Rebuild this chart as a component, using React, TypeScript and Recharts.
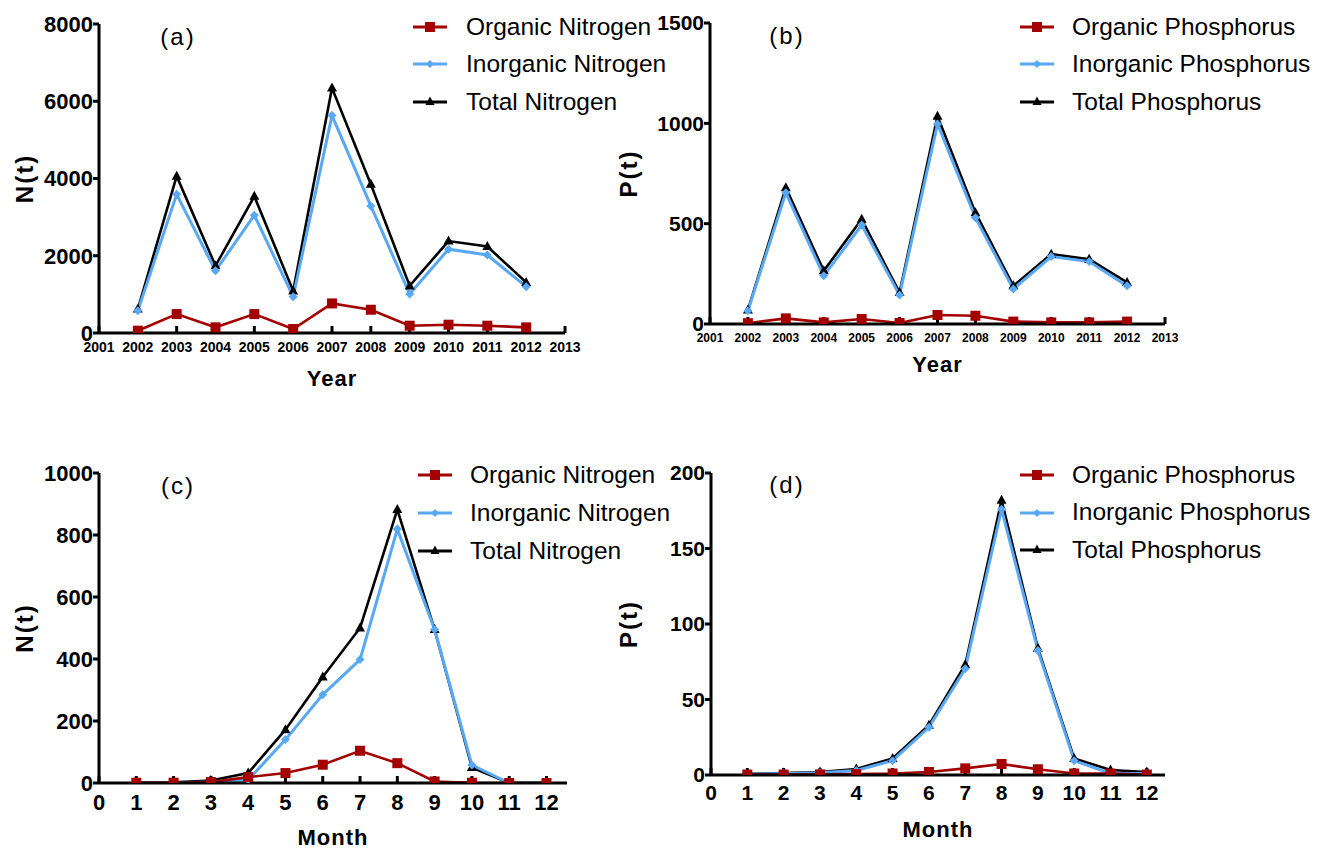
import React from 'react';
import { LineChart, Line, XAxis, YAxis, Legend } from 'recharts';

// ---------- data ----------
const years = [2002, 2003, 2004, 2005, 2006, 2007, 2008, 2009, 2010, 2011, 2012];
const organicNitrogenYear = [60, 490, 147, 490, 103, 766, 602, 189, 215, 189, 146];
const inorganicNitrogenYear = [575, 3590, 1610, 3050, 940, 5630, 3290, 1010, 2170, 2020, 1200];
const totalNitrogenYear = [620, 4060, 1740, 3540, 1090, 6340, 3850, 1220, 2380, 2240, 1310];

const organicPhosphorusYear = [4, 28, 8, 25, 5, 45, 41, 12, 8, 8, 12];
const inorganicPhosphorusYear = [66, 654, 240, 493, 144, 997, 530, 174, 336, 311, 190];
const totalPhosphorusYear = [70, 679, 265, 522, 157, 1035, 555, 190, 348, 323, 207];

const months = [1, 2, 3, 4, 5, 6, 7, 8, 9, 10, 11, 12];
const organicNitrogenMonth = [1, 1, 3, 19, 32, 59, 104, 64, 5, 1, 0, 0];
const inorganicNitrogenMonth = [0, 0, 3, 10, 140, 285, 398, 819, 495, 58, 0, 0];
const totalNitrogenMonth = [0, 2, 8, 32, 172, 342, 500, 882, 495, 50, 0, 0];

const organicPhosphorusMonth = [0.3, 0.3, 0.4, 0.6, 1, 2, 4.4, 7.3, 3.8, 1, 1, 0.3];
const inorganicPhosphorusMonth = [0.5, 1, 1.5, 3, 9.5, 31.6, 70.4, 176, 82.5, 9.5, 1, 1];
const totalPhosphorusMonth = [0.8, 1.3, 2, 4, 11, 33, 73, 182, 84, 11, 3.3, 2];

const yearTicks = [2001, 2002, 2003, 2004, 2005, 2006, 2007, 2008, 2009, 2010, 2011, 2012, 2013];
const monthTicks = [0, 1, 2, 3, 4, 5, 6, 7, 8, 9, 10, 11, 12];
const nYearTicks = [0, 2000, 4000, 6000, 8000];
const pYearTicks = [0, 500, 1000, 1500];
const nMonthTicks = [0, 200, 400, 600, 800, 1000];
const pMonthTicks = [0, 50, 100, 150, 200];

const nitrogenLabels = ['Organic Nitrogen', 'Inorganic Nitrogen', 'Total Nitrogen'];
const phosphorusLabels = ['Organic Phosphorus', 'Inorganic Phosphorus', 'Total Phosphorus'];

// ---------- style ----------
const FONT = '"Liberation Sans", Arial, Helvetica, sans-serif';
const RED = '#A30000';
const BLUE = '#58A8F3';
const BLACK = '#000000';

function makeRows(xs: number[], org: number[], inorg: number[], total: number[]) {
  return xs.map((x, i) => ({ x, org: org[i], inorg: inorg[i], total: total[i] }));
}

const squareDot = (props: any) => {
  const { cx, cy, index } = props;
  if (cx == null || cy == null) return <g key={`s${index}`} />;
  return <rect key={`s${index}`} x={cx - 5} y={cy - 5} width={10} height={10} fill={RED} />;
};
const diamondDot = (props: any) => {
  const { cx, cy, index } = props;
  if (cx == null || cy == null) return <g key={`d${index}`} />;
  return (
    <path key={`d${index}`} d={`M${cx},${cy - 4.5}L${cx + 4.5},${cy}L${cx},${cy + 4.5}L${cx - 4.5},${cy}Z`} fill={BLUE} />
  );
};
const triangleDot = (props: any) => {
  const { cx, cy, index } = props;
  if (cx == null || cy == null) return <g key={`t${index}`} />;
  return (
    <path key={`t${index}`} d={`M${cx},${cy - 5.5}L${cx + 5},${cy + 3.5}L${cx - 5},${cy + 3.5}Z`} fill={BLACK} />
  );
};

function LegendIcon({ kind }: { kind: number }) {
  const color = kind === 0 ? RED : kind === 1 ? BLUE : BLACK;
  return (
    <svg width={34} height={14} style={{ display: 'block', flex: '0 0 auto' }}>
      <line x1={0} y1={7} x2={34} y2={7} stroke={color} strokeWidth={3} />
      {kind === 0 && <rect x={12} y={2} width={10} height={10} fill={RED} />}
      {kind === 1 && <path d="M17,3L21,7L17,11L13,7Z" fill={BLUE} />}
      {kind === 2 && <path d="M17,1.5L21.5,10L12.5,10Z" fill={BLACK} />}
    </svg>
  );
}

function LegendBox({ labels, rowGap, textGap }: { labels: string[]; rowGap: number; textGap: number }) {
  return (
    <div style={{ fontFamily: FONT }}>
      {labels.map((lab, i) => (
        <div key={lab} style={{ display: 'flex', alignItems: 'center', height: rowGap, whiteSpace: 'nowrap' }}>
          <LegendIcon kind={i} />
          <span style={{ marginLeft: textGap, fontSize: 24.5, lineHeight: 1, color: '#000' }}>{lab}</span>
        </div>
      ))}
    </div>
  );
}

type PanelProps = {
  left: number;
  top: number;
  width: number;
  height: number;
  margin: { top: number; right: number; bottom: number; left: number };
  yWidth: number;
  data: any[];
  xDomain: [number, number];
  xTicks: number[];
  yDomain: [number, number];
  yTicks: number[];
  xFont: number;
  xTickMargin: number;
  yFont: number;
  xLabel: string;
  xLabelOffset: number;
  yLabel: string;
  yLabelOffset: number;
  labels: string[];
  legendLeft: number;
  legendTop: number;
  rowGap: number;
  textGap: number;
  letter: string;
  letterX: number;
  letterY: number;
};

function Panel(p: PanelProps) {
  const axisStyle = { stroke: BLACK, strokeWidth: 3 };
  return (
    <div style={{ position: 'absolute', left: p.left, top: p.top, width: p.width, height: p.height, fontFamily: FONT }}>
      <LineChart width={p.width} height={p.height} data={p.data} margin={p.margin}>
        <XAxis
          type="number"
          dataKey="x"
          domain={p.xDomain}
          ticks={p.xTicks}
          interval={0}
          allowDataOverflow
          tickSize={-7}
          tickMargin={p.xTickMargin}
          axisLine={axisStyle}
          tickLine={axisStyle}
          height={60}
          tick={{ fontSize: p.xFont, fontWeight: 'bold', fill: '#000', fontFamily: FONT }}
          label={{
            value: p.xLabel,
            position: 'insideBottom',
            offset: p.xLabelOffset,
            style: { fontSize: 22, fontWeight: 'bold', fill: '#000', letterSpacing: 1, fontFamily: FONT },
          }}
        />
        <YAxis
          type="number"
          domain={p.yDomain}
          ticks={p.yTicks}
          interval={0}
          allowDataOverflow
          width={p.yWidth}
          tickSize={6}
          tickMargin={0}
          axisLine={axisStyle}
          tickLine={axisStyle}
          tick={{ fontSize: p.yFont, fontWeight: 'bold', fill: '#000', fontFamily: FONT }}
          label={{
            value: p.yLabel,
            angle: -90,
            position: 'insideLeft',
            offset: p.yLabelOffset,
            style: { textAnchor: 'middle', fontSize: 24, fontWeight: 'bold', fill: '#000', letterSpacing: 2, fontFamily: FONT },
          }}
        />
        <Legend
          layout="vertical"
          align="center"
          verticalAlign="middle"
          wrapperStyle={{ left: p.legendLeft, top: p.legendTop, width: 'auto', height: 'auto' }}
          content={() => <LegendBox labels={p.labels} rowGap={p.rowGap} textGap={p.textGap} />}
        />
        <Line
          type="linear"
          dataKey="total"
          name={p.labels[2]}
          stroke={BLACK}
          strokeWidth={2.6}
          dot={triangleDot}
          activeDot={false}
          isAnimationActive={false}
        />
        <Line
          type="linear"
          dataKey="inorg"
          name={p.labels[1]}
          stroke={BLUE}
          strokeWidth={3}
          dot={diamondDot}
          activeDot={false}
          isAnimationActive={false}
        />
        <Line
          type="linear"
          dataKey="org"
          name={p.labels[0]}
          stroke={RED}
          strokeWidth={2.6}
          dot={squareDot}
          activeDot={false}
          isAnimationActive={false}
        />
      </LineChart>
      <div
        style={{
          position: 'absolute',
          left: p.letterX,
          top: p.letterY,
          transform: 'translate(-50%, -50%)',
          fontSize: 24,
          lineHeight: 1,
          letterSpacing: 2,
          whiteSpace: 'nowrap',
          color: '#000',
        }}
      >
        {p.letter}
      </div>
    </div>
  );
}

export default function App() {
  const dataA = makeRows(years, organicNitrogenYear, inorganicNitrogenYear, totalNitrogenYear);
  const dataB = makeRows(years, organicPhosphorusYear, inorganicPhosphorusYear, totalPhosphorusYear);
  const dataC = makeRows(months, organicNitrogenMonth, inorganicNitrogenMonth, totalNitrogenMonth);
  const dataD = makeRows(months, organicPhosphorusMonth, inorganicPhosphorusMonth, totalPhosphorusMonth);

  return (
    <div style={{ position: 'absolute', left: 0, top: 0, width: 1317, height: 849, background: '#fff', fontFamily: FONT }}>
      <Panel
        left={0}
        top={0}
        width={660}
        height={420}
        margin={{ top: 24, right: 95, bottom: 27, left: 0 }}
        yWidth={99}
        data={dataA}
        xDomain={[2001, 2013]}
        xTicks={yearTicks}
        yDomain={[0, 8000]}
        yTicks={nYearTicks}
        xFont={14}
        xTickMargin={16}
        yFont={22}
        xLabel="Year"
        xLabelOffset={7}
        yLabel="N(t)"
        yLabelOffset={24}
        labels={nitrogenLabels}
        legendLeft={413}
        legendTop={8}
        rowGap={37.5}
        textGap={19}
        letter="(a)"
        letterX={178}
        letterY={37}
      />
      <Panel
        left={600}
        top={0}
        width={717}
        height={420}
        margin={{ top: 23, right: 152, bottom: 36, left: 0 }}
        yWidth={110}
        data={dataB}
        xDomain={[2001, 2013]}
        xTicks={yearTicks}
        yDomain={[0, 1500]}
        yTicks={pYearTicks}
        xFont={12}
        xTickMargin={16.5}
        yFont={21}
        xLabel="Year"
        xLabelOffset={12}
        yLabel="P(t)"
        yLabelOffset={28}
        labels={phosphorusLabels}
        legendLeft={420}
        legendTop={8}
        rowGap={37.5}
        textGap={18}
        letter="(b)"
        letterX={187}
        letterY={36}
      />
      <Panel
        left={0}
        top={440}
        width={660}
        height={409}
        margin={{ top: 33, right: 93, bottom: 6, left: 0 }}
        yWidth={99}
        data={dataC}
        xDomain={[0, 12.55]}
        xTicks={monthTicks}
        yDomain={[0, 1000]}
        yTicks={nMonthTicks}
        xFont={22}
        xTickMargin={18.4}
        yFont={22}
        xLabel="Month"
        xLabelOffset={-2}
        yLabel="N(t)"
        yLabelOffset={24}
        labels={nitrogenLabels}
        legendLeft={418}
        legendTop={16}
        rowGap={38}
        textGap={18}
        letter="(c)"
        letterX={178}
        letterY={46}
      />
      <Panel
        left={600}
        top={440}
        width={717}
        height={409}
        margin={{ top: 33, right: 152, bottom: 14, left: 0 }}
        yWidth={111}
        data={dataD}
        xDomain={[0, 12.5]}
        xTicks={monthTicks}
        yDomain={[0, 200]}
        yTicks={pMonthTicks}
        xFont={21}
        xTickMargin={17}
        yFont={21}
        xLabel="Month"
        xLabelOffset={-2}
        yLabel="P(t)"
        yLabelOffset={28}
        labels={phosphorusLabels}
        legendLeft={420}
        legendTop={16.25}
        rowGap={37.5}
        textGap={18}
        letter="(d)"
        letterX={187}
        letterY={45}
      />
    </div>
  );
}
